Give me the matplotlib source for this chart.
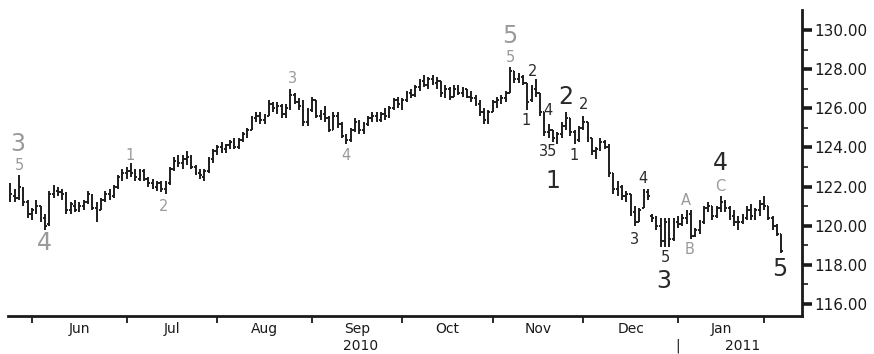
import matplotlib
matplotlib.use("Agg")
import matplotlib.pyplot as plt
import matplotlib.transforms as mtransforms
import pandas as pd
import numpy as np

# ---------------- data ----------------
holidays = ["2010-05-31", "2010-07-05", "2010-09-06", "2010-11-25",
            "2010-12-24", "2011-01-17"]
dates = pd.date_range("2010-05-24", "2011-02-07",
                      freq=pd.offsets.CustomBusinessDay(holidays=holidays))

opens = [
121.4,121.5,121.4,121.9,121.2,120.6,120.8,121.0,120.4,120.1,
121.6,121.8,121.7,121.5,120.8,121.0,120.8,121.0,121.2,121.5,
120.9,120.8,121.3,121.6,121.5,122.0,122.5,122.7,122.8,122.7,
122.4,122.8,122.4,122.2,122.0,122.2,121.9,122.2,122.9,123.3,
123.2,123.4,123.5,123.0,122.7,122.5,122.8,123.4,123.8,124.0,
123.9,124.1,124.3,124.0,124.4,124.7,124.9,125.5,125.6,125.4,
125.6,126.2,126.0,126.1,125.7,126.0,126.7,126.3,126.1,125.3,
125.9,126.4,125.6,125.7,125.5,124.9,125.6,125.2,124.6,124.4,
124.9,125.3,124.9,125.2,125.5,125.6,125.4,125.7,125.6,126.0,
126.4,126.2,126.4,126.8,126.7,127.1,127.4,127.2,127.5,127.3,
127.4,126.8,127.0,126.6,127.0,126.8,127.0,126.6,126.5,126.2,
125.8,125.4,125.8,126.3,126.4,126.5,126.8,127.9,127.5,127.6,
127.3,126.4,127.0,126.8,125.8,124.8,124.9,124.5,124.7,125.1,
125.5,124.8,124.4,125.0,125.3,124.5,123.8,123.9,124.3,124.0,
122.7,121.9,122.0,121.5,121.6,120.7,120.2,120.9,121.7,120.5,
120.4,120.0,119.2,120.2,119.3,120.2,120.1,120.4,120.6,119.5,
119.8,120.2,120.9,121.0,120.5,120.9,121.2,120.9,120.5,120.2,
120.2,120.4,120.8,120.5,120.8,121.1,121.0,120.4,120.0,119.6]
highs = [
122.2,121.9,122.6,122.0,121.3,120.9,121.3,121.0,120.6,121.8,
122.1,122.0,121.9,121.7,121.2,121.3,121.2,121.3,121.8,121.6,
121.2,121.4,121.8,121.9,122.1,122.6,122.9,123.0,123.2,122.9,
122.9,122.9,122.5,122.4,122.3,122.3,122.3,123.0,123.5,123.6,
123.6,123.8,123.6,123.1,122.9,122.9,123.5,123.9,124.1,124.3,
124.2,124.4,124.5,124.5,124.8,125.0,125.6,125.8,125.8,125.7,
126.4,126.3,126.3,126.2,126.2,127.0,126.8,126.5,126.4,126.0,
126.6,126.4,125.9,126.1,125.6,125.8,125.8,125.3,124.7,125.0,
125.5,125.4,125.3,125.6,125.8,125.8,125.8,126.0,126.1,126.5,
126.6,126.5,126.9,127.0,127.2,127.5,127.7,127.6,127.7,127.6,
127.4,127.2,127.1,127.2,127.2,127.1,127.0,126.9,126.7,126.4,
126.0,125.9,126.4,126.6,126.7,126.9,128.1,127.9,127.8,127.7,
127.3,127.2,127.5,126.8,125.8,125.2,124.9,124.8,125.3,125.8,
125.5,124.9,125.1,125.6,125.3,124.5,124.0,124.5,124.4,124.2,
122.7,122.3,122.1,121.8,121.6,121.0,120.9,121.9,121.9,120.6,
120.5,120.4,120.4,120.4,120.4,120.5,120.6,120.8,120.8,119.9,
120.3,121.0,121.2,121.0,121.0,121.5,121.3,121.0,120.8,120.5,
120.6,121.0,121.1,120.9,121.3,121.5,121.0,120.5,120.1,119.6]
lows = [
121.2,121.2,121.3,121.0,120.4,120.3,120.6,120.2,119.8,120.0,
121.4,121.5,121.3,120.6,120.6,120.7,120.7,120.8,121.1,120.8,
120.2,120.8,121.2,121.3,121.4,121.9,122.3,122.4,122.5,122.3,
122.3,122.3,122.0,121.9,121.8,121.7,121.6,122.1,122.8,123.0,
122.9,123.1,122.9,122.6,122.4,122.3,122.7,123.2,123.6,123.7,
123.7,123.9,123.9,123.9,124.3,124.5,124.9,125.3,125.2,125.2,
125.6,125.8,125.7,125.5,125.5,125.9,126.2,125.9,125.1,125.1,
125.8,125.5,125.4,125.3,124.8,124.9,125.0,124.5,124.2,124.3,
124.8,124.7,124.7,125.1,125.3,125.3,125.3,125.4,125.5,125.9,
126.0,125.9,126.3,126.5,126.6,126.9,127.1,127.0,127.2,127.0,
126.6,126.5,126.4,126.6,126.7,126.6,126.5,126.3,126.1,125.6,
125.2,125.2,125.8,126.0,126.2,126.3,126.8,127.3,127.3,127.2,
125.9,126.3,126.6,125.6,124.6,124.5,124.3,124.2,124.5,124.9,
124.6,124.2,124.3,124.9,124.3,123.6,123.4,123.8,123.9,122.5,
121.6,121.5,121.3,121.2,120.5,120.0,120.2,120.9,121.3,120.2,
119.8,118.9,118.9,118.9,119.2,119.9,120.0,120.1,119.3,119.4,
119.6,120.1,120.7,120.3,120.4,120.7,120.7,120.3,120.0,119.8,
120.1,120.3,120.3,120.3,120.5,120.8,120.3,119.8,119.5,118.6]
closes = [
121.6,121.4,122.0,121.2,120.6,120.8,121.0,120.4,120.0,121.6,
121.9,121.7,121.6,120.8,121.1,120.8,121.0,121.2,121.6,120.9,
120.6,121.3,121.6,121.5,122.0,122.5,122.7,122.8,122.7,122.5,
122.8,122.4,122.2,122.0,122.2,121.9,122.2,122.9,123.3,123.2,
123.4,123.5,123.0,122.7,122.6,122.8,123.4,123.8,124.0,123.9,
124.1,124.3,124.0,124.4,124.7,124.9,125.5,125.6,125.4,125.6,
126.2,126.0,126.1,125.7,126.0,126.7,126.3,126.1,125.3,125.9,
126.4,125.6,125.7,125.5,124.9,125.6,125.2,124.6,124.4,124.9,
125.3,124.9,125.2,125.5,125.6,125.4,125.7,125.6,126.0,126.4,
126.2,126.4,126.8,126.7,127.1,127.4,127.2,127.5,127.3,127.4,
126.8,127.0,126.6,127.0,126.8,127.0,126.6,126.5,126.2,125.8,
125.4,125.8,126.3,126.4,126.5,126.8,127.9,127.5,127.6,127.3,
126.3,127.0,126.8,125.8,124.8,124.9,124.5,124.7,125.1,125.5,
124.8,124.4,125.0,125.3,124.5,123.8,123.9,124.3,124.0,122.7,
121.9,122.0,121.5,121.6,120.7,120.2,120.8,121.7,121.5,120.4,
120.0,119.2,120.2,119.3,120.2,120.1,120.4,120.6,119.5,119.8,
120.2,120.9,121.0,120.5,120.9,121.2,120.9,120.5,120.2,120.2,
120.4,120.8,120.5,120.8,121.1,121.0,120.4,120.0,119.6,118.7]

month_labels = ["Jun", "Jul", "Aug", "Sep", "Oct", "Nov", "Dec", "Jan"]
year_labels = ["2010", "2011"]
yticks = [116, 118, 120, 122, 124, 126, 128, 130]

# Elliott wave annotations: text, bar position, price, size class, colour class
wave_text  = ["3", "5", "4", "1", "2", "3", "4", "5", "5", "A", "B", "C",
              "2", "1", "4", "35", "1", "2", "1", "2", "3", "4", "5", "3", "4", "5"]
wave_x     = [1.7, 2.0, 7.8, 27.8, 35.6, 65.6, 77.9, 116.0, 116.2, 156.9, 157.8, 164.8,
              121.3, 119.7, 124.8, 124.8, 126.0, 129.0, 130.9, 133.0, 144.8, 146.9,
              152.0, 151.8, 164.8, 178.7]
wave_y     = [124.2, 123.1, 119.1, 123.6, 121.0, 127.5, 123.6, 129.7, 128.6, 121.3, 118.8, 122.0,
              127.9, 125.4, 125.9, 123.8, 122.3, 126.6, 123.6, 126.2, 119.3, 122.4,
              118.4, 117.2, 123.2, 117.8]
wave_big   = [1, 0, 1, 0, 0, 0, 0, 1, 0, 0, 0, 0,
              0, 0, 0, 0, 1, 1, 0, 0, 0, 0, 0, 1, 1, 1]
wave_gray  = [1, 1, 1, 1, 1, 1, 1, 1, 1, 1, 1, 1,
              0, 0, 0, 0, 0, 0, 0, 0, 0, 0, 0, 0, 0, 0]

# ---------------- plot ----------------
W, H = 874, 354
fig = plt.figure(figsize=(W / 100, H / 100), dpi=100)
ax = fig.add_axes([8 / W, 1 - 316 / H, (802 - 8) / W, (316 - 10) / H])

idx = np.arange(len(dates))
bar_col = "#1e1e1e"
tw = 0.42
ax.vlines(idx, lows, highs, color=bar_col, lw=1.4)
ax.hlines(opens, idx - tw, idx, color=bar_col, lw=1.4)
ax.hlines(closes, idx, idx + tw, color=bar_col, lw=1.4)

ax.set_xlim(-0.58, 183.8)
ax.set_ylim(115.39, 131.02)

# spines
for s in ["top", "left"]:
    ax.spines[s].set_visible(False)
ax.spines["bottom"].set_linewidth(2.0)
ax.spines["right"].set_linewidth(2.0)
ax.spines["bottom"].set_color("#1a1a1a")
ax.spines["right"].set_color("#1a1a1a")

# y axis on the right
ax.yaxis.tick_right()
ax.set_yticks(yticks)
ax.set_yticklabels([f"{v:.2f}" for v in yticks], fontsize=11, color="#1a1a1a")
ax.set_yticks(np.arange(117, 131, 2), minor=True)
ax.tick_params(axis="y", which="major", direction="out", length=7, width=2.6,
               pad=2, color="#1a1a1a")
ax.tick_params(axis="y", which="minor", direction="out", length=4, width=1.2,
               color="#1a1a1a")

# x axis: month boundaries + centred labels
month_starts = [i for i in range(1, len(dates)) if dates[i].month != dates[i - 1].month]
ax.set_xticks(month_starts)
ax.set_xticklabels([""] * len(month_starts))
mids = [(month_starts[k] + month_starts[k + 1]) / 2 for k in range(len(month_starts) - 1)]
ax.set_xticks(mids, minor=True)
ax.set_xticklabels(month_labels, minor=True, fontsize=10, color="#1a1a1a")
ax.tick_params(axis="x", which="major", direction="out", length=5, width=1.3,
               color="#1a1a1a")
ax.tick_params(axis="x", which="minor", length=0, pad=4)

trans = mtransforms.blended_transform_factory(ax.transData, ax.transAxes)
jan_idx = month_starts[7]
ax.text(81.2, -0.098, year_labels[0], transform=trans, ha="center", va="center",
        fontsize=10, color="#1a1a1a")
ax.text(170.1, -0.098, year_labels[1], transform=trans, ha="center", va="center",
        fontsize=10, color="#1a1a1a")
ax.text(jan_idx, -0.098, "|", transform=trans, ha="center", va="center",
        fontsize=10, color="#1a1a1a")

# wave labels
for t, x, y, big, gray in zip(wave_text, wave_x, wave_y, wave_big, wave_gray):
    ax.text(x, y, t, ha="center", va="center",
            fontsize=17 if big else 10.5,
            color="#9a9a9a" if gray else "#2a2a2a")

fig.savefig("out.png", dpi=100)
